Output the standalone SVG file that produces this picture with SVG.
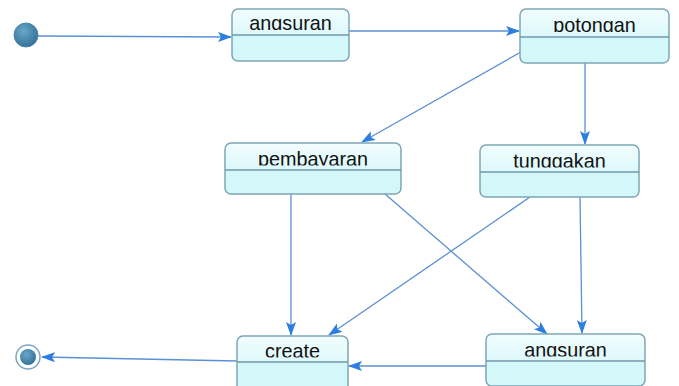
<svg xmlns="http://www.w3.org/2000/svg" width="679" height="386" viewBox="0 0 679 386">
<style>
.box{fill:url(#g);stroke:#7fa6b4;stroke-width:1.5}
.low{fill:#d4f7fa}
.div{stroke:#6f98a8;stroke-width:1.5}
.t{font-family:"Liberation Sans",Arial,sans-serif;font-size:19.8px;fill:#111;text-anchor:middle}
.c{fill:none;stroke:#5b8fd6;stroke-width:1.3}
</style>
<defs>
<linearGradient id="g" x1="0" y1="0" x2="0" y2="1"><stop offset="0" stop-color="#f2fdfe"/><stop offset="1" stop-color="#c9f3f8"/></linearGradient>
<radialGradient id="dot" cx="0.4" cy="0.35" r="0.7"><stop offset="0" stop-color="#6aa8c8"/><stop offset="1" stop-color="#2f6e98"/></radialGradient>
<marker id="a" markerWidth="14" markerHeight="10" refX="13" refY="5" orient="auto" markerUnits="userSpaceOnUse"><path d="M0,0 L14,5 L0,10 L3,5 Z" fill="#2c7fe0"/></marker>
<clipPath id="k1"><rect x="232" y="9" width="117" height="21"/></clipPath>
<clipPath id="k2"><rect x="520" y="9" width="149" height="23"/></clipPath>
<clipPath id="k3"><rect x="225" y="143" width="176" height="22.5"/></clipPath>
<clipPath id="k4"><rect x="480" y="145" width="159" height="22.5"/></clipPath>
<clipPath id="k5"><rect x="237" y="336" width="111" height="21.5"/></clipPath>
<clipPath id="k6"><rect x="486" y="334" width="159" height="22.5"/></clipPath>
</defs>
<g id="connectors">
<line class="c" x1="38" y1="36" x2="231" y2="37" marker-end="url(#a)"/>
<line class="c" x1="349" y1="31" x2="519" y2="31" marker-end="url(#a)"/>
<line class="c" x1="521" y1="52" x2="362" y2="142" marker-end="url(#a)"/>
<line class="c" x1="585" y1="63" x2="585" y2="144" marker-end="url(#a)"/>
<line class="c" x1="291" y1="194" x2="291" y2="335" marker-end="url(#a)"/>
<line class="c" x1="385" y1="194" x2="547" y2="334" marker-end="url(#a)"/>
<line class="c" x1="530" y1="197" x2="329" y2="335" marker-end="url(#a)"/>
<line class="c" x1="580" y1="197" x2="582" y2="333" marker-end="url(#a)"/>
<line class="c" x1="486" y1="366" x2="349" y2="366" marker-end="url(#a)"/>
<line class="c" x1="237" y1="361" x2="42" y2="357" marker-end="url(#a)"/>
</g>
<g id="initial"><circle cx="26" cy="35" r="12" fill="url(#dot)" stroke="#4f86a8"/></g>
<g id="final"><circle cx="28" cy="357" r="12" fill="#fff" stroke="#7aa6c0" stroke-width="1.5"/><circle cx="28" cy="357" r="8" fill="url(#dot)"/></g>
<g id="angsuran1">
<rect class="box" x="232" y="9" width="117" height="52" rx="6"/>
<path class="low" d="M233,35 H348 V55 a5,5 0 0 1 -5,5 H238 a5,5 0 0 1 -5,-5 Z"/>
<line class="div" x1="232" y1="35" x2="349" y2="35"/>
<text class="t" x="290.5" y="30" clip-path="url(#k1)">angsuran</text>
</g>
<g id="potongan">
<rect class="box" x="520" y="9" width="149" height="54" rx="6"/>
<path class="low" d="M521,37 H668 V57 a5,5 0 0 1 -5,5 H526 a5,5 0 0 1 -5,-5 Z"/>
<line class="div" x1="520" y1="37" x2="669" y2="37"/>
<text class="t" x="594.5" y="32" clip-path="url(#k2)">potongan</text>
</g>
<g id="pembayaran">
<rect class="box" x="225" y="143" width="176" height="51" rx="6"/>
<path class="low" d="M226,170 H400 V188 a5,5 0 0 1 -5,5 H231 a5,5 0 0 1 -5,-5 Z"/>
<line class="div" x1="225" y1="170" x2="401" y2="170"/>
<text class="t" x="313" y="165.5" clip-path="url(#k3)">pembayaran</text>
</g>
<g id="tunggakan">
<rect class="box" x="480" y="145" width="159" height="52" rx="6"/>
<path class="low" d="M481,172 H638 V191 a5,5 0 0 1 -5,5 H486 a5,5 0 0 1 -5,-5 Z"/>
<line class="div" x1="480" y1="172" x2="639" y2="172"/>
<text class="t" x="559.5" y="167.5" clip-path="url(#k4)">tunggakan</text>
</g>
<g id="create">
<rect class="box" x="237" y="336" width="111" height="56" rx="6"/>
<rect class="low" x="238" y="362" width="109" height="30"/>
<line class="div" x1="237" y1="362" x2="348" y2="362"/>
<text class="t" x="292.5" y="357.5" clip-path="url(#k5)">create</text>
</g>
<g id="angsuran2">
<rect class="box" x="486" y="334" width="159" height="52" rx="6"/>
<path class="low" d="M487,361 H644 V380 a5,5 0 0 1 -5,5 H492 a5,5 0 0 1 -5,-5 Z"/>
<line class="div" x1="486" y1="361" x2="645" y2="361"/>
<text class="t" x="565.5" y="356.5" clip-path="url(#k6)">angsuran</text>
</g>
</svg>
